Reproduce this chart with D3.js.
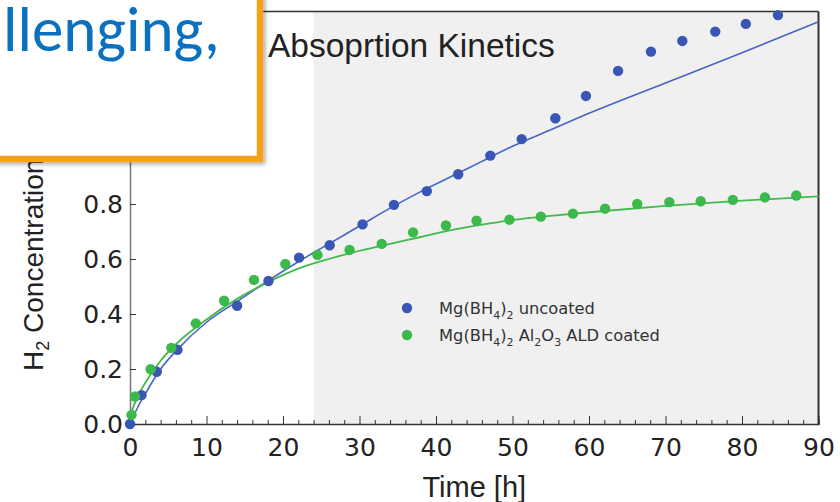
<!DOCTYPE html>
<html>
<head>
<meta charset="utf-8">
<script src="https://cdn.jsdelivr.net/npm/d3@7"></script>
<style>
  body { margin: 0; background: #fff; }
  svg { display: block; }
</style>
</head>
<body>
<svg id="chart" width="840" height="502"></svg>
<script>
const uncoatedTime = [0, 1.5, 3.5, 6.2, 14.0, 18.1, 22.1, 26.1, 30.4, 34.5, 38.8, 42.9, 47.1, 51.2, 55.6, 59.6, 63.8, 68.1, 72.2, 76.5, 80.5, 84.7];
const uncoatedH2 = [0, 0.105, 0.19, 0.27, 0.43, 0.52, 0.605, 0.65, 0.726, 0.797, 0.847, 0.908, 0.976, 1.036, 1.112, 1.193, 1.284, 1.354, 1.393, 1.427, 1.455, 1.487];

const coatedTime = [0.2, 0.65, 2.7, 5.4, 8.6, 12.3, 16.2, 20.3, 24.5, 28.7, 32.9, 37.0, 41.3, 45.3, 49.6, 53.7, 57.9, 62.1, 66.3, 70.5, 74.6, 78.8, 83.0, 87.1];
const coatedH2 = [0.033, 0.1, 0.199, 0.277, 0.366, 0.448, 0.524, 0.582, 0.615, 0.633, 0.655, 0.697, 0.722, 0.739, 0.743, 0.754, 0.765, 0.783, 0.8, 0.807, 0.81, 0.815, 0.824, 0.831];

// fitted curves
const fitTime = [0, 1, 2, 4, 6, 10, 14, 18, 22, 26, 30, 34, 38, 42, 46, 50, 55, 60, 70, 80, 90];
const uncoatedFit = [0, 0.06, 0.11, 0.2, 0.265, 0.37, 0.445, 0.52, 0.59, 0.655, 0.72, 0.785, 0.845, 0.9, 0.955, 1.01, 1.07, 1.13, 1.24, 1.35, 1.463];
const coatedFit = [0.03, 0.1, 0.15, 0.23, 0.29, 0.38, 0.455, 0.515, 0.565, 0.6, 0.63, 0.655, 0.68, 0.705, 0.725, 0.742, 0.757, 0.77, 0.793, 0.812, 0.828];

const xTicks = [0, 10, 20, 30, 40, 50, 60, 70, 80, 90];
const yTicks = [0, 0.2, 0.4, 0.6, 0.8]; // higher ticks sit under the callout box
const shadeStart = 24;

const blue = "#3a56b5";
const green = "#3cb94b";

const svg = d3.select("#chart");
const x = d3.scaleLinear().domain([0, 90]).range([130, 818.5]);
const y = d3.scaleLinear().domain([0, 1.5]).range([424, 11.5]);

// shaded region
svg.append("rect")
  .attr("x", x(shadeStart))
  .attr("y", y(1.5))
  .attr("width", x(90) - x(shadeStart))
  .attr("height", y(0) - y(1.5))
  .attr("fill", "#f0f0f0");

// frame
svg.append("line").attr("x1", x(0)).attr("x2", x(90)).attr("y1", y(1.5)).attr("y2", y(1.5))
  .attr("stroke", "#333").attr("stroke-width", 1.5);
svg.append("line").attr("x1", x(90)).attr("x2", x(90)).attr("y1", y(1.5)).attr("y2", y(0))
  .attr("stroke", "#333").attr("stroke-width", 2);

// x axis: major ticks every 10, minor every 2, pointing inward
const xAxis = svg.append("g")
  .attr("transform", `translate(0,${y(0)})`)
  .call(d3.axisBottom(x).tickValues(d3.range(0, 91, 2)).tickSize(-4).tickFormat(""));
xAxis.select(".domain").attr("stroke", "#333").attr("stroke-width", 1.5);
xAxis.selectAll(".tick line").attr("stroke", "#333")
  .attr("y2", (d) => (d % 10 === 0 ? -8 : -4));

svg.append("g")
  .attr("transform", `translate(0,${y(0)})`)
  .call(d3.axisBottom(x).tickValues(xTicks).tickSize(0).tickPadding(14).tickFormat(d3.format("d")))
  .call((g) => g.select(".domain").remove())
  .selectAll("text")
  .attr("font-family", "DejaVu Sans")
  .attr("font-size", 25)
  .attr("fill", "#222");

// y axis
const yAxis = svg.append("g")
  .attr("transform", `translate(${x(0)},0)`)
  .call(d3.axisLeft(y).tickValues(yTicks).tickSize(-6).tickPadding(7).tickFormat(d3.format(".1f")));
yAxis.select(".domain").attr("stroke", "#777").attr("stroke-width", 1.5);
yAxis.selectAll(".tick line").attr("stroke", "#333");
yAxis.selectAll("text")
  .attr("font-family", "DejaVu Sans")
  .attr("font-size", 25)
  .attr("fill", "#222");

// fitted lines
const line = d3.line()
  .x((d) => x(d[0]))
  .y((d) => y(d[1]))
  .curve(d3.curveMonotoneX);

svg.append("path")
  .datum(fitTime.map((t, i) => [t, uncoatedFit[i]]))
  .attr("d", line)
  .attr("fill", "none")
  .attr("stroke", "#4963c6")
  .attr("stroke-width", 1.6);

svg.append("path")
  .datum(fitTime.map((t, i) => [t, coatedFit[i]]))
  .attr("d", line)
  .attr("fill", "none")
  .attr("stroke", "#43b94e")
  .attr("stroke-width", 1.8);

// points
svg.append("g")
  .selectAll("circle")
  .data(uncoatedTime.map((t, i) => [t, uncoatedH2[i]]))
  .enter()
  .append("circle")
  .attr("cx", (d) => x(d[0]))
  .attr("cy", (d) => y(d[1]))
  .attr("r", 5.2)
  .attr("fill", blue);

svg.append("g")
  .selectAll("circle")
  .data(coatedTime.map((t, i) => [t, coatedH2[i]]))
  .enter()
  .append("circle")
  .attr("cx", (d) => x(d[0]))
  .attr("cy", (d) => y(d[1]))
  .attr("r", 5.2)
  .attr("fill", green);

// title
svg.append("text")
  .attr("x", 268)
  .attr("y", 57)
  .attr("font-family", "Liberation Sans")
  .attr("font-size", 33.5)
  .attr("fill", "#222")
  .text("Absoprtion Kinetics");

// axis labels
svg.append("text")
  .attr("x", x(45))
  .attr("y", 497)
  .attr("text-anchor", "middle")
  .attr("font-family", "Liberation Sans")
  .attr("font-size", 29)
  .attr("fill", "#222")
  .text("Time [h]");

const yLabel = svg.append("text")
  .attr("transform", "translate(43,371) rotate(-90)")
  .attr("font-family", "Liberation Sans")
  .attr("font-size", 28)
  .attr("fill", "#222");
yLabel.append("tspan").text("H");
yLabel.append("tspan").attr("font-size", 18).attr("dy", 6).text("2");
yLabel.append("tspan").attr("dy", -6).text(" Concentration");

// legend
const legend = [
  { color: blue, parts: [["Mg(BH", 0], ["4", 1], [")", 0], ["2", 1], [" uncoated", 0]] },
  { color: green, parts: [["Mg(BH", 0], ["4", 1], [")", 0], ["2", 1], [" Al", 0], ["2", 1], ["O", 0], ["3", 1], [" ALD coated", 0]] },
];
legend.forEach((item, i) => {
  const ly = 308 + i * 27;
  svg.append("circle").attr("cx", 407).attr("cy", ly).attr("r", 5.2).attr("fill", item.color);
  const t = svg.append("text")
    .attr("x", 439)
    .attr("y", ly + 6)
    .attr("font-family", "DejaVu Sans")
    .attr("font-size", 16.3)
    .attr("fill", "#333");
  let prev = 0;
  item.parts.forEach(([s, sub]) => {
    t.append("tspan")
      .attr("dy", (sub - prev) * 5)
      .attr("font-size", sub ? 11 : 16.3)
      .text(s);
    prev = sub;
  });
});

// overlay callout box
const defs = svg.append("defs");
const f = defs.append("filter").attr("id", "shadow").attr("x", "-20%").attr("y", "-20%").attr("width", "140%").attr("height", "140%");
f.append("feDropShadow").attr("dx", 2).attr("dy", 2).attr("stdDeviation", 2).attr("flood-color", "#000").attr("flood-opacity", 0.35);

svg.append("rect")
  .attr("x", -20)
  .attr("y", -20)
  .attr("width", 280)
  .attr("height", 179)
  .attr("fill", "#fff")
  .attr("stroke", "#f5a11c")
  .attr("stroke-width", 6.5)
  .attr("filter", "url(#shadow)");

svg.append("text")
  .attr("x", 3)
  .attr("y", 51)
  .attr("font-family", "Carlito, Calibri, Lato, sans-serif")
  .attr("font-size", 63)
  .attr("fill", "#0a70c0")
  .text("llenging,");
</script>
</body>
</html>
